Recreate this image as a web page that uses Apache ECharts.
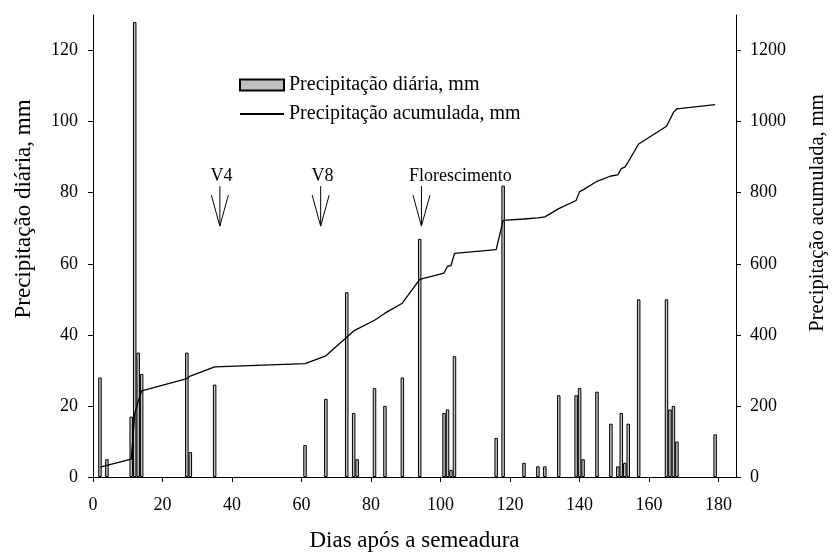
<!DOCTYPE html>
<html>
<head>
<meta charset="utf-8">
<script src="https://cdn.jsdelivr.net/npm/echarts@6/dist/echarts.min.js"></script>
<style>
  html, body { margin: 0; padding: 0; background: #fff; }
  #chart { width: 836px; height: 557px; }
</style>
</head>
<body>
<div id="chart"></div>
<script>
// chuva diaria (dias apos a semeadura, mm)
var rainDays = [2, 4, 11, 12, 13, 14, 27, 28, 35, 61, 67, 73, 75, 76, 81, 84, 89, 94, 101, 102, 103, 104,
    116, 118, 124, 128, 130, 134, 139, 140, 141, 145, 149, 151, 152, 153, 154, 157, 165, 166, 167, 168, 179];
var rainMm = [28, 5, 17, 128, 35, 29, 35, 7, 26, 9, 22, 52, 18, 5, 25, 20, 28, 67, 18, 19, 2, 34,
    11, 82, 4, 3, 3, 23, 23, 25, 5, 24, 15, 3, 18, 4, 15, 50, 50, 19, 20, 10, 12];

// chuva acumulada
var accDays = [2, 4, 11, 12, 13, 14, 27, 28, 35, 61, 67, 73, 75, 76, 81, 84, 89, 94, 101, 102, 103, 104,
    116, 118, 124, 128, 130, 134, 139, 140, 141, 145, 149, 151, 152, 153, 154, 157, 165, 166, 167, 168, 179];
var accMm = [28, 33, 50, 178, 213, 242, 277, 284, 310, 319, 341, 393, 411, 416, 441, 461, 489, 556, 574, 593, 595, 629,
    640, 722, 726, 729, 732, 755, 778, 803, 808, 832, 847, 850, 868, 872, 887, 937, 987, 1006, 1026, 1036, 1048];

// estadios
var stageLabels = ['V4', 'V8', 'Florescimento'];
var stageDays = [36.5, 65.5, 94.5];
var stageTip = [70.6, 70.6, 70.6];
var stageLabelDays = [37, 66, 105.7];
var stageLabelY = 84.5;

var xTicks = [0, 20, 40, 60, 80, 100, 120, 140, 160, 180];
var leftTicks = [0, 20, 40, 60, 80, 100, 120];
var rightTicks = [0, 200, 400, 600, 800, 1000, 1200];

var FONT = '"Liberation Serif", "Times New Roman", serif';

var barData = [];
for (var i = 0; i < rainDays.length; i++) {
    barData.push([rainDays[i], rainMm[i]]);
}
var lineData = [];
for (var i = 0; i < accDays.length; i++) {
    lineData.push([accDays[i], accMm[i]]);
}
var stageData = [];
for (var i = 0; i < stageDays.length; i++) {
    stageData.push([stageDays[i], stageTip[i]]);
}

function renderStage(params, api) {
    var i = params.dataIndex;
    var tip = api.coord([api.value(0), api.value(1)]);
    var lab = api.coord([stageLabelDays[i], stageLabelY]);
    return {
        type: 'group',
        children: [
            {
                type: 'line',
                shape: { x1: tip[0], y1: tip[1] - 40, x2: tip[0], y2: tip[1] },
                style: { stroke: '#000', lineWidth: 1 }
            },
            {
                type: 'polyline',
                shape: { points: [[tip[0] - 8.5, tip[1] - 31], [tip[0], tip[1]], [tip[0] + 8.5, tip[1] - 31]] },
                style: { stroke: '#000', fill: null, lineWidth: 1 }
            },
            {
                type: 'text',
                x: lab[0],
                y: lab[1],
                style: {
                    text: stageLabels[i],
                    align: 'center',
                    verticalAlign: 'middle',
                    fontFamily: 'Liberation Serif',
                    fontSize: 18,
                    fill: '#000'
                }
            }
        ]
    };
}

function plain(v) {
    return String(v);
}

var chart = echarts.init(document.getElementById('chart'));

var axisCommon = {
    axisLine: { show: true, lineStyle: { color: '#000', width: 1 } },
    splitLine: { show: false }
};

var option = {
    backgroundColor: '#fff',
    animation: false,
    textStyle: { fontFamily: FONT, color: '#000' },
    grid: { left: 93, right: 93, top: 15, bottom: 76, containLabel: false },
    legend: {
        orient: 'vertical',
        left: 234,
        top: 70,
        itemWidth: 44,
        itemHeight: 11,
        itemGap: 9,
        textStyle: { fontFamily: FONT, fontSize: 20, color: '#000' },
        data: [
            { name: 'Precipitação diária, mm', icon: 'rect' },
            { name: 'Precipitação acumulada, mm', itemStyle: { opacity: 0 } }
        ]
    },
    xAxis: Object.assign({}, axisCommon, {
        type: 'value',
        min: 0,
        max: 185,
        interval: 20,
        name: 'Dias após a semeadura',
        nameLocation: 'middle',
        nameGap: 52,
        nameTextStyle: { fontFamily: FONT, fontSize: 23, color: '#000' },
        axisTick: { show: true, length: 5, lineStyle: { color: '#000' }, customValues: xTicks },
        axisLabel: { fontFamily: FONT, fontSize: 18, color: '#000', margin: 19, customValues: xTicks, formatter: plain }
    }),
    yAxis: [
        Object.assign({}, axisCommon, {
            type: 'value',
            position: 'left',
            min: 0,
            max: 130,
            interval: 20,
            name: 'Precipitação diária, mm',
            nameLocation: 'middle',
            nameRotate: 90,
            nameGap: 58,
            nameTextStyle: { fontFamily: FONT, fontSize: 23, color: '#000', padding: [0, 0, 0, 74] },
            axisTick: { show: true, length: 5, lineStyle: { color: '#000' }, customValues: leftTicks },
            axisLabel: { fontFamily: FONT, fontSize: 18, color: '#000', margin: 15, customValues: leftTicks, formatter: plain }
        }),
        Object.assign({}, axisCommon, {
            type: 'value',
            position: 'right',
            min: 0,
            max: 1300,
            interval: 200,
            name: 'Precipitação acumulada, mm',
            nameLocation: 'middle',
            nameRotate: 90,
            nameGap: 71,
            nameTextStyle: { fontFamily: FONT, fontSize: 20.5, color: '#000', padding: [0, 0, 0, 66] },
            axisTick: { show: true, length: 5, lineStyle: { color: '#000' }, customValues: rightTicks },
            axisLabel: { fontFamily: FONT, fontSize: 18, color: '#000', margin: 14, customValues: rightTicks, formatter: plain }
        })
    ],
    series: [
        {
            name: 'Precipitação diária, mm',
            type: 'bar',
            yAxisIndex: 0,
            barWidth: 3.5,
            itemStyle: { color: '#c0c0c0', borderColor: '#000', borderWidth: 1 },
            data: barData,
            z: 2
        },
        {
            name: 'Precipitação acumulada, mm',
            type: 'line',
            yAxisIndex: 1,
            symbol: 'none',
            lineStyle: { color: '#000', width: 1.3 },
            itemStyle: { color: '#000' },
            data: lineData,
            z: 3
        },
        {
            name: 'estadios',
            type: 'custom',
            yAxisIndex: 0,
            renderItem: renderStage,
            data: stageData,
            silent: true,
            z: 4
        }
    ]
};
chart.setOption(option);

window.addEventListener('resize', function () {
    chart.resize();
});
</script>
</body>
</html>
